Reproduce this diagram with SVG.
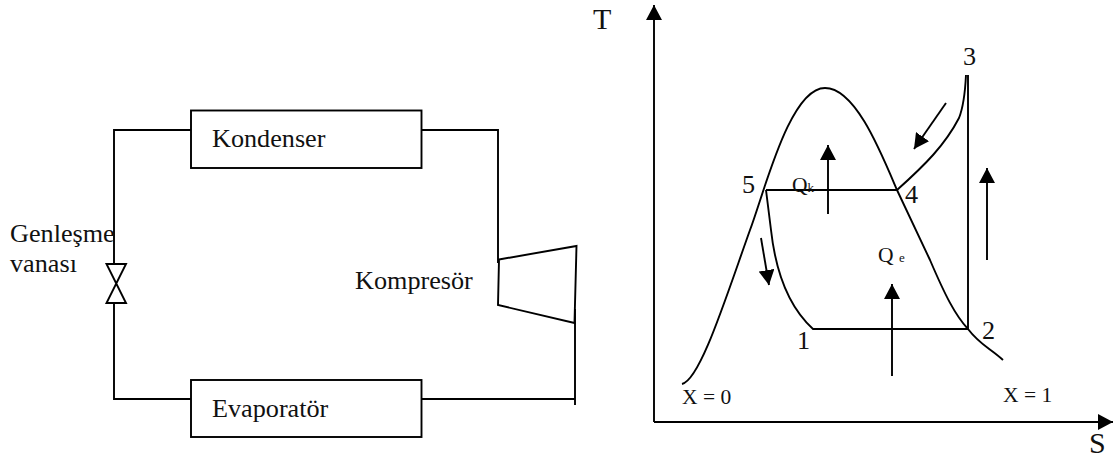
<svg xmlns="http://www.w3.org/2000/svg" width="1119" height="459" viewBox="0 0 1119 459">
<style>
.l{fill:none;stroke:#000;stroke-width:1.9}
.a{fill:none;stroke:#000;stroke-width:1.9;marker-end:url(#ah)}
text{font-family:"Liberation Serif","Times New Roman",serif;font-size:26.2px;fill:#111}
.s{font-size:21.5px}
.xs{font-size:13px}
.b{font-size:30px}
</style>
<defs><marker id="ah" markerUnits="userSpaceOnUse" markerWidth="16" markerHeight="16" refX="15" refY="8" orient="auto"><path d="M0 0L15 8L0 16Z" fill="#000"/></marker></defs>
<rect width="1119" height="459" fill="#fff"/>
<g id="connectors">
<path class="l" d="M191 130H114V264M114 303V399H191"/>
<path class="l" d="M421.500 130H498V263"/>
<path class="l" d="M421.500 399H575M575 309V405"/>
</g>
<g id="kondenser"><rect class="l" x="191" y="110.500" width="230.500" height="57.500"/><text x="212" y="147">Kondenser</text></g>
<g id="evaporator"><rect class="l" x="191" y="380" width="230.500" height="57"/><text x="212" y="417">Evaporatör</text></g>
<g id="valve"><path class="l" d="M106.500 264H126L106.500 303H126Z"/><text x="10" y="242">Genleşme</text><text x="10" y="272">vanası</text></g>
<g id="compressor"><path class="l" d="M499 259.500L576.500 246L574.500 323L498 305Z"/><text x="355" y="289">Kompresör</text></g>
<g id="ts-diagram">
<path class="a" d="M654 422V5"/>
<path class="a" d="M654 422H1113"/>
<path class="l" d="M682 384C700 380 725 300 750 230C765 190 790 88 825 88C855 88 880 150 897 190L930 260C945 295 955 315 968 329C980 345 990 348 1003 360"/>
<path class="l" d="M766 190H897"/>
<path class="l" d="M766 190L771 230C776 275 790 308 813 329H968"/>
<path class="l" d="M968 75V329"/>
<path class="l" d="M897 190C925 165 945 145 959 118C963 108 965 95 966 75"/>
<path class="a" d="M828 214V145"/>
<path class="a" d="M892 376V284"/>
<path class="a" d="M987 260V168"/>
<path class="a" d="M946 103L914 149"/>
<path class="a" d="M761 238L769 285"/>
<text class="b" x="593" y="29">T</text>
<text class="b" x="1089" y="452.500">S</text>
<text x="742" y="193">5</text><text x="905" y="203">4</text><text x="963" y="65">3</text><text x="982" y="339">2</text><text x="797" y="349">1</text>
<text class="s" x="792" y="192">Q<tspan class="xs">k</tspan></text>
<text class="s" x="878" y="262">Q <tspan class="xs">e</tspan></text>
<text class="s" x="682" y="404">X = 0</text>
<text class="s" x="1003" y="402">X = 1</text>
</g>
</svg>
